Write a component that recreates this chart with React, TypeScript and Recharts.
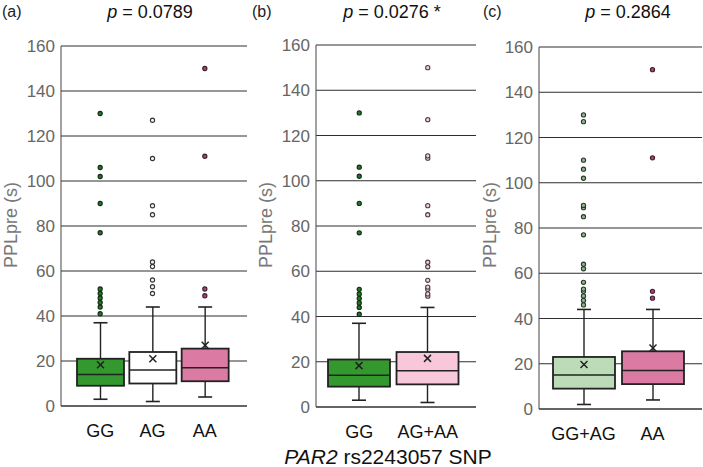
import { ComposedChart, Bar, Scatter, Cell, XAxis, YAxis, CartesianGrid } from 'recharts';

// panel (a)
const catsA = ['GG', 'AG', 'AA'];
const minA = [3, 2, 4];
const q1A = [9, 10, 11];
const medA = [14, 16, 17];
const q3A = [21, 24, 25.5];
const maxA = [37, 44, 44];
const meanA = [18.3, 21, 27];

// panel (b)
const catsB = ['GG', 'AG+AA'];
const minB = [3, 2];
const q1B = [9, 10];
const medB = [14, 16];
const q3B = [21, 24.3];
const maxB = [37, 44];
const meanB = [18.3, 21.5];

// panel (c)
const catsC = ['GG+AG', 'AA'];
const minC = [2, 4];
const q1C = [9, 11];
const medC = [15, 17];
const q3C = [23, 25.5];
const maxC = [44, 44];
const meanC = [19.7, 27];

// outliers
const outGG = [41, 44, 46, 48, 50, 52, 77, 90, 102, 106, 130];
const outAG = [50, 53, 56, 62, 64, 85, 89, 110, 127];
const outAA = [49, 52, 111, 150];
const outAGAA = [49, 50, 52, 53, 56, 62, 64, 85, 89, 110, 111, 127, 150];
const outGGAG = [46, 48, 50, 52, 53, 56, 62, 64, 77, 85, 89, 90, 102, 106, 110, 127, 130];

const yTicks = [0, 20, 40, 60, 80, 100, 120, 140, 160];
const pTitles = ['0.0789', '0.0276 *', '0.2864'];

const STYLE: Record<string, { box: string; dot: string; ring: string }> = {
  GG: { box: '#33992f', dot: '#1f7a24', ring: '#142814' },
  AG: { box: '#ffffff', dot: '#f4f4f4', ring: '#333333' },
  AA: { box: '#db7aa3', dot: '#a84474', ring: '#3a1e2c' },
  'AG+AA': { box: '#f8c8da', dot: '#eed2dc', ring: '#4a3a40' },
  'GG+AG': { box: '#bcdcb8', dot: '#8fb48f', ring: '#2a382a' },
};

const FONT = '"Liberation Sans", Arial, sans-serif';

function buildRows(cats: string[], mins: number[], q1s: number[], meds: number[], q3s: number[], maxs: number[], means: number[]) {
  return cats.map((cat, i) => ({
    cat,
    min: mins[i],
    q1: q1s[i],
    median: meds[i],
    q3: q3s[i],
    max: maxs[i],
    mean: means[i],
    base: q1s[i],
    iqr: q3s[i] - q1s[i],
  }));
}

function BoxShape(props: any) {
  const { x, y, width, height, payload, fill } = props;
  const { q1, q3, min, max, median, mean } = payload;
  const k = height / (q3 - q1);
  const py = (v: number) => y + height - (v - q1) * k;
  const cx = x + width / 2;
  const cap = 7;
  const m = 3.5;
  const s = '#222';
  return (
    <g>
      <line x1={cx} x2={cx} y1={py(max)} y2={y} stroke={s} strokeWidth={1.4} />
      <line x1={cx - cap} x2={cx + cap} y1={py(max)} y2={py(max)} stroke={s} strokeWidth={1.6} />
      <line x1={cx} x2={cx} y1={y + height} y2={py(min)} stroke={s} strokeWidth={1.4} />
      <line x1={cx - cap} x2={cx + cap} y1={py(min)} y2={py(min)} stroke={s} strokeWidth={1.6} />
      <rect x={x} y={y} width={width} height={height} fill={fill} stroke={s} strokeWidth={1.8} />
      <line x1={x} x2={x + width} y1={py(median)} y2={py(median)} stroke={s} strokeWidth={1.5} />
      <line x1={cx - m} x2={cx + m} y1={py(mean) - m} y2={py(mean) + m} stroke={s} strokeWidth={1.5} />
      <line x1={cx - m} x2={cx + m} y1={py(mean) + m} y2={py(mean) - m} stroke={s} strokeWidth={1.5} />
    </g>
  );
}

function makeDot(cat: string) {
  const st = STYLE[cat];
  return (props: any) => {
    const { cx, cy } = props;
    if (cx == null || cy == null) return <g />;
    return <circle cx={cx} cy={cy} r={2.1} fill={st.dot} stroke={st.ring} strokeWidth={1.1} />;
  };
}

type PanelProps = {
  rows: ReturnType<typeof buildRows>;
  outliers: { cat: string; values: number[] }[];
  left: number;
  width: number;
  margin: { top: number; right: number; bottom: number; left: number };
  barSize: number;
  padding: { left: number; right: number };
};

function Panel({ rows, outliers, left, width, margin, barSize, padding }: PanelProps) {
  return (
    <div style={{ position: 'absolute', left, top: 0 }}>
      <ComposedChart width={width} height={467} data={rows} margin={margin}>
        <CartesianGrid vertical={false} stroke="#2e2e2e" strokeWidth={1} />
        <XAxis
          dataKey="cat"
          type="category"
          allowDuplicatedCategory={false}
          padding={padding}
          height={30}
          tickLine={false}
          tickMargin={12}
          axisLine={{ stroke: '#333' }}
          tick={{ fontSize: 18, fill: '#111', fontFamily: FONT }}
        />
        <YAxis
          type="number"
          domain={[0, 160]}
          ticks={yTicks}
          allowDataOverflow
          width={50}
          tickLine={false}
          tickMargin={0}
          axisLine={{ stroke: '#444' }}
          tick={{ fontSize: 17, fill: '#666', fontFamily: FONT }}
        />
        <Bar dataKey="base" stackId="box" fill="transparent" barSize={barSize} isAnimationActive={false} />
        <Bar dataKey="iqr" stackId="box" barSize={barSize} shape={BoxShape} isAnimationActive={false}>
          {rows.map((r) => (
            <Cell key={r.cat} fill={STYLE[r.cat].box} />
          ))}
        </Bar>
        {outliers.map((o) => (
          <Scatter
            key={o.cat}
            data={o.values.map((v) => ({ cat: o.cat, v }))}
            dataKey="v"
            fill={STYLE[o.cat].dot}
            shape={makeDot(o.cat)}
            isAnimationActive={false}
          />
        ))}
      </ComposedChart>
    </div>
  );
}

export default function App() {
  const rowsA = buildRows(catsA, minA, q1A, medA, q3A, maxA, meanA);
  const rowsB = buildRows(catsB, minB, q1B, medB, q3B, maxB, meanB);
  const rowsC = buildRows(catsC, minC, q1C, medC, q3C, maxC, meanC);

  return (
    <div style={{ position: 'absolute', left: 0, top: 0, width: 703, height: 467, background: '#fff', fontFamily: FONT }}>
      <Panel
        rows={rowsA}
        outliers={[
          { cat: 'GG', values: outGG },
          { cat: 'AG', values: outAG },
          { cat: 'AA', values: outAA },
        ]}
        left={0}
        width={250}
        margin={{ top: 46, right: 3, bottom: 31, left: 11 }}
        barSize={47}
        padding={{ left: 13, right: 16 }}
      />
      <Panel
        rows={rowsB}
        outliers={[
          { cat: 'GG', values: outGG },
          { cat: 'AG+AA', values: outAGAA },
        ]}
        left={255}
        width={225}
        margin={{ top: 45, right: 4, bottom: 30, left: 11 }}
        barSize={62}
        padding={{ left: 9, right: 14 }}
      />
      <Panel
        rows={rowsC}
        outliers={[
          { cat: 'GG+AG', values: outGGAG },
          { cat: 'AA', values: outAA },
        ]}
        left={480}
        width={223}
        margin={{ top: 47, right: 1, bottom: 28, left: 9 }}
        barSize={62}
        padding={{ left: 10, right: 15 }}
      />
      <svg width={703} height={467} style={{ position: 'absolute', left: 0, top: 0, pointerEvents: 'none' }} fontFamily={FONT}>
        <text x={2} y={17} fontSize={16} fill="#222">(a)</text>
        <text x={252} y={17} fontSize={16} fill="#222">(b)</text>
        <text x={483} y={17} fontSize={16} fill="#222">(c)</text>
        {[150, 392, 628].map((cx, i) => (
          <text key={i} x={cx} y={18} fontSize={18} fill="#111" textAnchor="middle">
            <tspan fontStyle="italic">p</tspan> = {pTitles[i]}
          </text>
        ))}
        {[11, 266, 490].map((cx, i) => (
          <text key={i} x={cx} y={225} fontSize={18} fill="#777" textAnchor="middle" dominantBaseline="central" transform={`rotate(-90 ${cx} 225)`}>
            PPLpre (s)
          </text>
        ))}
        <text x={388} y={464} fontSize={21} fill="#111" textAnchor="middle">
          <tspan fontStyle="italic">PAR2</tspan> rs2243057 SNP
        </text>
      </svg>
    </div>
  );
}
